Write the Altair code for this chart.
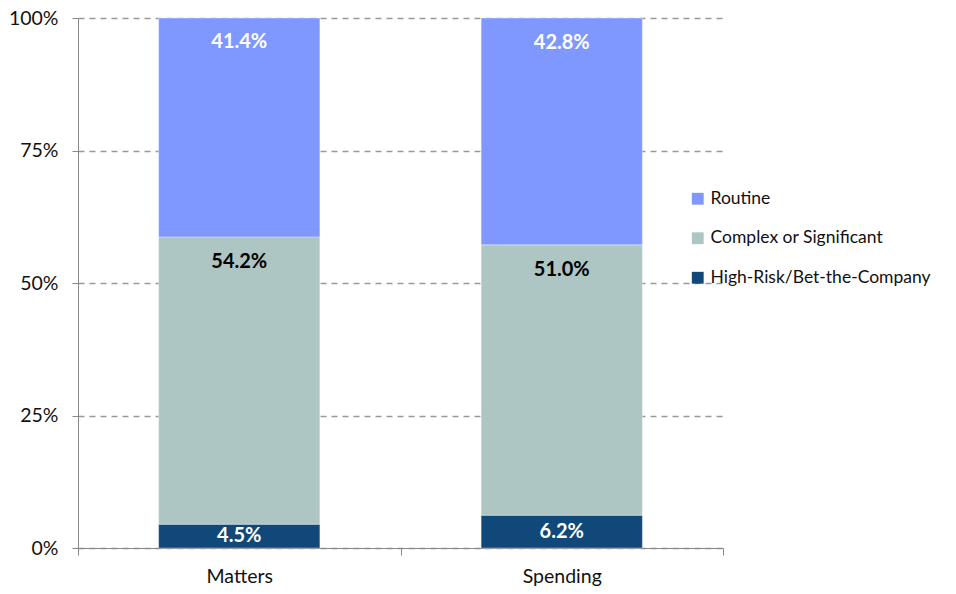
import altair as alt
import pandas as pd

categories = ["Matters", "Spending"]
series = ["High-Risk/Bet-the-Company", "Complex or Significant", "Routine"]
matters_values = [4.5, 54.2, 41.4]
spending_values = [6.2, 51.0, 42.8]
colors = ["#10487A", "#ADC5C3", "#7F98FF"]
label_colors = ["white", "black", "white"]

rows = []
for cat, vals in zip(categories, [matters_values, spending_values]):
    for i, (s, v) in enumerate(zip(series, vals)):
        rows.append({"category": cat, "series": s, "value": v, "ord": i,
                     "lc": label_colors[i]})
df = pd.DataFrame(rows)

FONT = "Lato"
AX = 19.5
legend_order = ["Routine", "Complex or Significant", "High-Risk/Bet-the-Company"]

base = alt.Chart(df).transform_stack(
    stack="value", groupby=["category"], as_=["y0", "y1"],
    sort=[alt.SortField("ord", order="ascending")]
).transform_calculate(
    label="format(datum.value, '.1f') + '%'",
    lpos="max(datum.y1 - 4.7, (datum.y0 + datum.y1) / 2)"
)

xenc = alt.X("category:N", sort=categories,
             scale=alt.Scale(paddingInner=0, paddingOuter=0),
             axis=alt.Axis(title=None, labelAngle=0, tickBand="extent",
                           labelFontSize=AX, labelFont=FONT, labelColor="#111",
                           domainColor="#888", tickColor="#888", tickSize=7,
                           labelPadding=12, grid=False))

bars = base.mark_bar(width=alt.RelativeBandSize(0.5), stroke="white",
                     strokeWidth=0.6, strokeOpacity=0.6).encode(
    x=xenc,
    y=alt.Y("y1:Q", scale=alt.Scale(domain=[0, 100], clamp=True, nice=False),
            axis=alt.Axis(title=None, values=[0, 25, 50, 75, 100],
                          labelExpr="datum.value + '%'",
                          labelFontSize=AX, labelFont=FONT, labelColor="#111",
                          domainColor="#888", tickColor="#888", tickSize=6,
                          labelPadding=14,
                          grid=True, gridDash=[6, 5], gridColor="#999",
                          gridWidth=1.3)),
    y2="y0:Q",
    color=alt.Color("series:N",
                    scale=alt.Scale(domain=series, range=colors),
                    sort=legend_order,
                    legend=alt.Legend(title=None, orient="none",
                                      legendX=611, legendY=172,
                                      symbolType="square", symbolSize=140,
                                      symbolStrokeWidth=0, symbolOpacity=1,
                                      labelFontSize=17.5, labelFont=FONT,
                                      labelColor="#111", labelOffset=4,
                                      labelLimit=400,
                                      rowPadding=20.5, values=legend_order)),
)

texts = base.mark_text(fontSize=20, font=FONT, fontWeight="bold",
                       baseline="middle").encode(
    x=alt.X("category:N", sort=categories),
    y=alt.Y("lpos:Q"),
    text="label:N",
    color=alt.Color("lc:N", scale=None),
)

chart = alt.layer(bars, texts).properties(
    width=645, height=530,
    autosize=alt.AutoSizeParams(type="none"),
    padding={"left": 78, "top": 18, "right": 233, "bottom": 46},
).configure_view(stroke=None).configure_axis(gridOpacity=1)

chart.save("out.html", embed_options={"renderer": "svg", "actions": False})
